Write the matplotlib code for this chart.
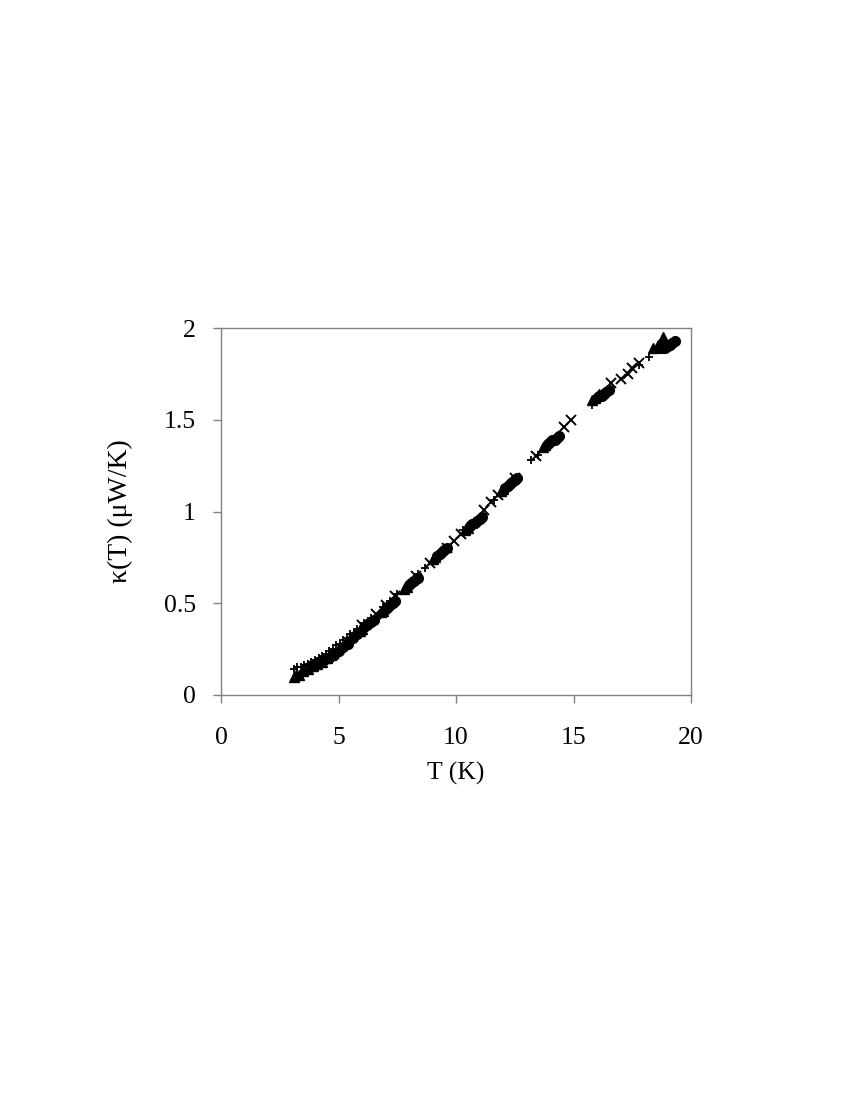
import matplotlib
matplotlib.use("Agg")
import matplotlib.pyplot as plt

plt.rcParams['font.family'] = ['Liberation Serif', 'DejaVu Serif']

# filled triangles (lower-left end of each measured run)
tri_T = [3.1, 3.2, 3.3, 3.5, 3.7, 3.9, 4.1, 4.3, 4.5, 4.7,
         5.9, 6.0, 6.8, 6.9, 7.8, 7.9, 9.0, 9.1, 10.4, 10.5,
         11.9, 12.0, 13.7, 13.8, 15.8, 15.9, 16.1, 18.4, 18.6, 18.8]
tri_k = [0.10, 0.11, 0.11, 0.13, 0.14, 0.16, 0.17, 0.18, 0.20, 0.22,
         0.35, 0.36, 0.45, 0.46, 0.58, 0.59, 0.74, 0.75, 0.90, 0.91,
         1.11, 1.12, 1.35, 1.36, 1.61, 1.62, 1.64, 1.89, 1.91, 1.95]

# filled circles
circ_T = [3.8, 4.0, 4.2, 4.4, 4.6, 4.8, 5.0, 5.2, 5.4, 5.6, 5.8,
          6.1, 6.2, 6.3, 6.4, 6.5,
          7.0, 7.1, 7.2, 7.3, 7.4,
          8.0, 8.1, 8.2, 8.3, 8.4,
          9.2, 9.3, 9.4, 9.5, 9.6,
          10.6, 10.7, 10.8, 10.9, 11.0, 11.1,
          12.1, 12.2, 12.3, 12.4, 12.5, 12.6,
          13.9, 14.0, 14.1, 14.2, 14.3, 14.4,
          16.0, 16.1, 16.2, 16.3, 16.4, 16.5,
          18.7, 18.8, 18.9, 19.0, 19.1, 19.2, 19.3]
circ_k = [0.16, 0.17, 0.18, 0.19, 0.20, 0.22, 0.24, 0.26, 0.28, 0.31, 0.33,
          0.37, 0.38, 0.39, 0.40, 0.41,
          0.47, 0.48, 0.49, 0.50, 0.51,
          0.60, 0.61, 0.62, 0.63, 0.64,
          0.76, 0.77, 0.78, 0.79, 0.80,
          0.92, 0.93, 0.94, 0.95, 0.96, 0.97,
          1.13, 1.14, 1.15, 1.16, 1.17, 1.18,
          1.37, 1.38, 1.39, 1.39, 1.40, 1.41,
          1.62, 1.63, 1.63, 1.64, 1.65, 1.66,
          1.89, 1.89, 1.89, 1.90, 1.91, 1.92, 1.93]

# small plus markers
plus_T = [3.1, 3.25, 3.4, 3.55, 3.7, 3.85, 4.0, 4.15, 4.3, 4.45, 4.6, 4.75,
          4.9, 5.05, 5.2, 5.35, 5.5, 5.65, 5.8, 6.1, 6.4, 6.9, 7.2, 7.5,
          8.1, 8.4, 8.7, 9.3, 10.3, 11.6, 12.4, 13.2, 13.5, 15.8, 17.8, 18.2]
plus_k = [0.14, 0.15, 0.155, 0.165, 0.17, 0.18, 0.19, 0.20, 0.21, 0.225, 0.24, 0.25,
          0.27, 0.28, 0.30, 0.31, 0.33, 0.34, 0.36, 0.39, 0.42, 0.48, 0.51, 0.55,
          0.62, 0.66, 0.69, 0.77, 0.90, 1.06, 1.17, 1.28, 1.31, 1.58, 1.80, 1.84]

# diagonal crosses
cross_T = [6.0, 6.6, 7.0, 7.4, 8.3, 8.9, 9.6, 9.9, 10.2, 11.2, 11.5, 11.8,
           12.5, 13.4, 14.6, 14.9, 16.6, 17.0, 17.3, 17.5, 17.8]
cross_k = [0.38, 0.44, 0.49, 0.54, 0.65, 0.72, 0.80, 0.84, 0.88, 1.01, 1.05, 1.09,
           1.18, 1.30, 1.46, 1.50, 1.70, 1.72, 1.75, 1.78, 1.81]

fig = plt.figure(figsize=(8.5, 11), dpi=100)
ax = fig.add_axes([0.26, 0.3682, 0.553, 0.3336])

ax.plot(plus_T, plus_k, ls='none', marker='+', ms=5.5, mew=1.3, color='black')
ax.plot(cross_T, cross_k, ls='none', marker='x', ms=6.5, mew=1.4, color='black')
ax.plot(tri_T, tri_k, ls='none', marker='^', ms=7.5, color='black')
ax.plot(circ_T, circ_k, ls='none', marker='o', ms=7, color='black')

ax.set_xlim(0, 20)
ax.set_ylim(0, 2)
ax.set_xticks([0, 5, 10, 15, 20])
ax.set_yticks([0, 0.5, 1, 1.5, 2])
ax.set_yticklabels(['0', '0.5', '1', '1.5', '2'])

for s in ax.spines.values():
    s.set_color('#808080')
    s.set_linewidth(1)
ax.tick_params(direction='out', length=6, width=1, color='#808080', labelsize=18.5)
ax.tick_params(axis='x', pad=17)
ax.tick_params(axis='y', pad=12)

ax.set_xlabel('T (K)', fontsize=18.5, labelpad=9)
ax.set_ylabel('κ(T) (μW/K)', fontsize=20, labelpad=22)

fig.savefig('out.png', dpi=100)
